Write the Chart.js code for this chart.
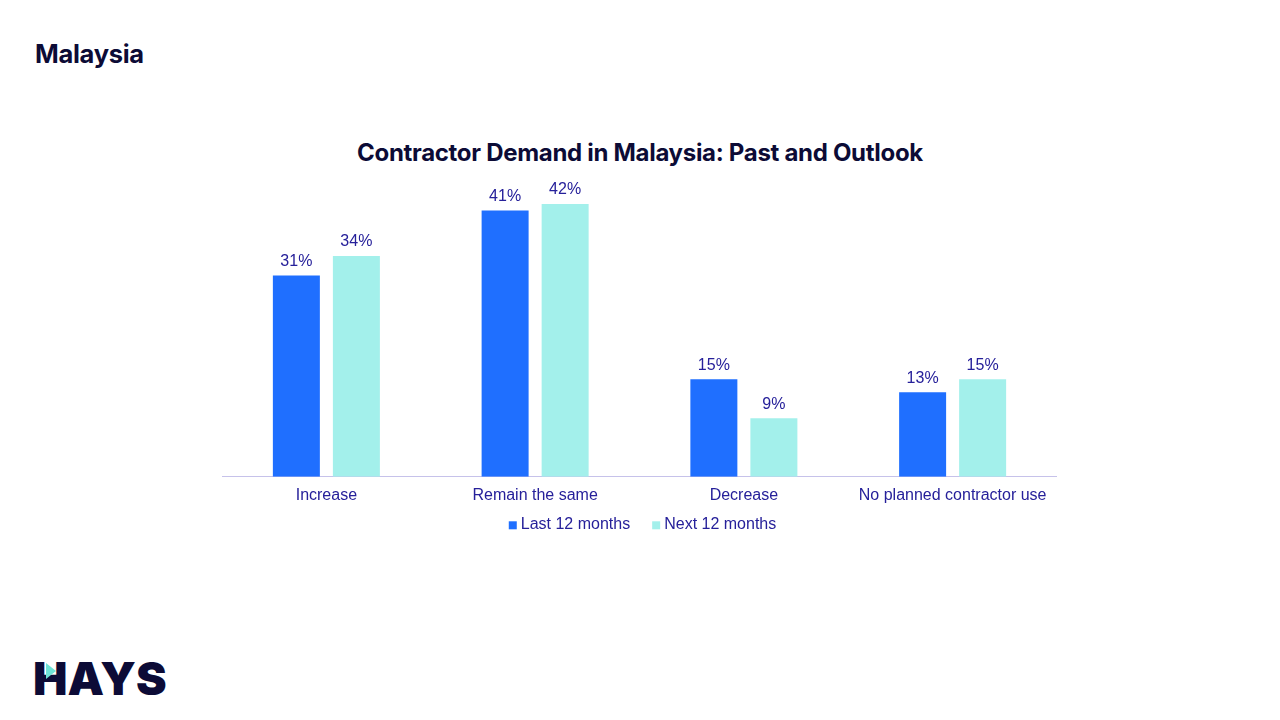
<!DOCTYPE html>
<html>
<head>
<meta charset="utf-8">
<script src="https://cdn.jsdelivr.net/npm/chart.js@4"></script>
<style>
  html, body { margin: 0; padding: 0; background: #fff; width: 1280px; height: 720px; overflow: hidden; }
  #page-title { position: absolute; left: 35px; top: 38px; font-family: "Inter", "Liberation Sans", sans-serif; font-weight: 700; font-size: 25.5px; color: #0c0b36; letter-spacing: -0.3px; }
  #chart-title { position: absolute; left: 0; width: 1280px; top: 138px; text-align: center; font-family: "Inter", "Liberation Sans", sans-serif; font-weight: 700; font-size: 24px; color: #0c0b36; letter-spacing: -0.3px; }
  #wrap { position: absolute; left: 222px; top: 178px; width: 835px; height: 376px; }
  #logo { position: absolute; left: 33px; top: 650px; font-family: "Inter", "Liberation Sans", sans-serif; font-weight: 900; font-size: 46px; color: #0c0b36; letter-spacing: 0px; line-height: 56px; }
  #logo .arrow { position: absolute; left: 13px; top: 13px; width: 0; height: 0; border-top: 8px solid transparent; border-bottom: 8px solid transparent; border-left: 10px solid #6fe3d6; }
</style>
</head>
<body>
<div id="page-title">Malaysia</div>
<div id="chart-title">Contractor Demand in Malaysia: Past and Outlook</div>
<div id="wrap"><canvas id="c"></canvas></div>
<div id="logo">HAYS<span class="arrow"></span></div>
<script>
const categories = ["Increase", "Remain the same", "Decrease", "No planned contractor use"];
const seriesNames = ["Last 12 months", "Next 12 months"];
const last12 = [31, 41, 15, 13];
const next12 = [34, 42, 9, 15];

const labelColor = "#26209a";
const fontFamily = '"Liberation Sans", Arial, sans-serif';

const valueLabels = {
  id: "valueLabels",
  afterDatasetsDraw(chart) {
    const ctx = chart.ctx;
    ctx.save();
    ctx.font = '16px ' + fontFamily;
    ctx.fillStyle = labelColor;
    ctx.textAlign = "center";
    ctx.textBaseline = "bottom";
    chart.data.datasets.forEach((ds, i) => {
      const meta = chart.getDatasetMeta(i);
      meta.data.forEach((bar, j) => {
        ctx.fillText(ds.data[j] + "%", bar.x, bar.y - 6);
      });
    });
    ctx.restore();
  }
};

// Legend drawn beneath the axis, from the datasets
const customLegend = {
  id: "customLegend",
  afterDraw(chart) {
    const ctx = chart.ctx;
    const area = chart.chartArea;
    ctx.save();
    ctx.font = '16px ' + fontFamily;
    ctx.textBaseline = "middle";
    ctx.textAlign = "left";
    const box = 8, boxGap = 4, itemGap = 22;
    const items = chart.data.datasets.map(ds => ({ text: ds.label, color: ds.backgroundColor, w: ctx.measureText(ds.label).width }));
    const total = items.reduce((s, it) => s + box + boxGap + it.w, 0) + itemGap * (items.length - 1);
    let x = (area.left + area.right) / 2 + 3 - total / 2;
    const y = area.bottom + 48;
    items.forEach(it => {
      ctx.fillStyle = it.color;
      ctx.fillRect(x, y - box / 2 + 0.5, box, box);
      ctx.fillStyle = labelColor;
      ctx.fillText(it.text, x + box + boxGap, y);
      x += box + boxGap + it.w + itemGap;
    });
    ctx.restore();
  }
};

new Chart(document.getElementById("c"), {
  type: "bar",
  data: {
    labels: categories,
    datasets: [
      { label: seriesNames[0], data: last12, backgroundColor: "#1f6fff", categoryPercentage: 0.575, barPercentage: 0.783 },
      { label: seriesNames[1], data: next12, backgroundColor: "#a3f0eb", categoryPercentage: 0.575, barPercentage: 0.783 }
    ]
  },
  options: {
    responsive: true,
    maintainAspectRatio: false,
    animation: false,
    layout: { padding: { top: 0, left: 0, right: 0, bottom: 40 } },
    scales: {
      x: {
        grid: { display: false, drawTicks: false },
        border: { display: true, color: "#c6c2ea", width: 1 },
        ticks: { color: labelColor, font: { family: fontFamily, size: 16 }, padding: 9, maxRotation: 0 }
      },
      y: { display: false, min: 0, max: 46 }
    },
    plugins: {
      legend: { display: false },
      tooltip: { enabled: false }
    }
  },
  plugins: [valueLabels, customLegend]
});
</script>
</body>
</html>
